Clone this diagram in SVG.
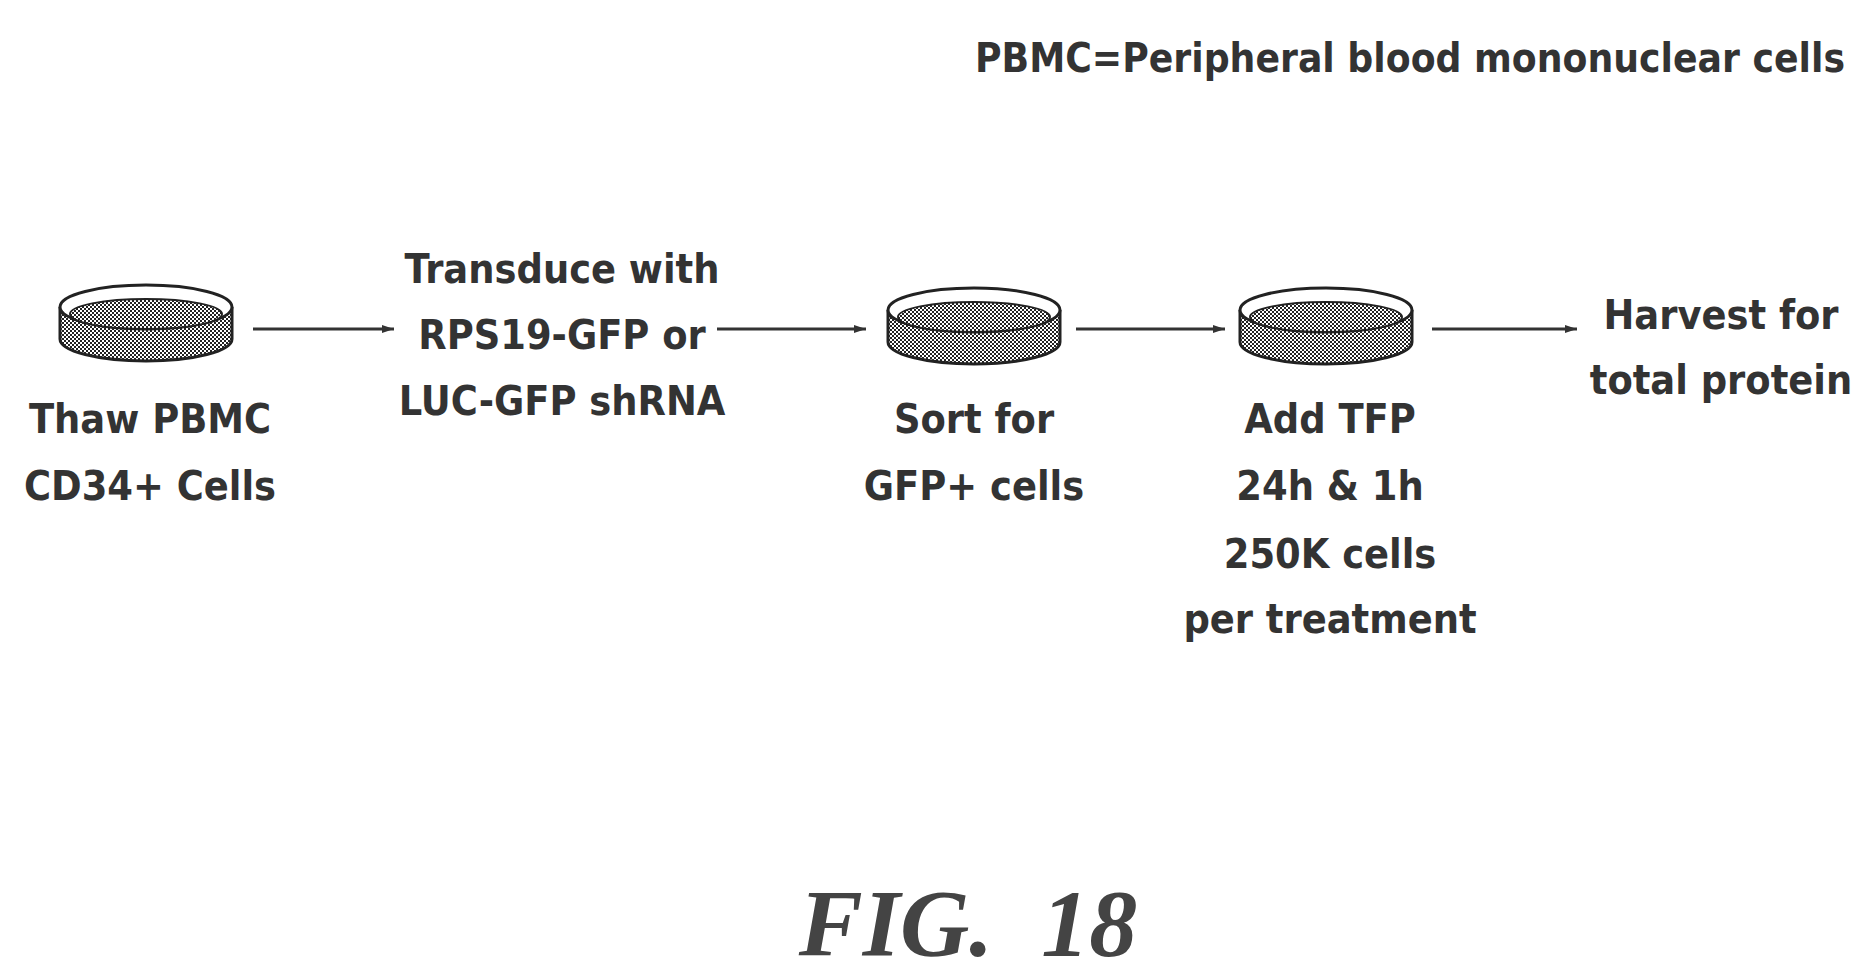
<svg xmlns="http://www.w3.org/2000/svg" width="1874" height="980" viewBox="0 0 1874 980">
<defs>
<pattern id="dots" width="4" height="4" patternUnits="userSpaceOnUse"><rect width="4" height="4" fill="#fff"/><rect width="2" height="2" fill="#222"/><rect x="2" y="2" width="2" height="2" fill="#222"/></pattern>
<marker id="ah" viewBox="0 0 12 8" refX="12" refY="4" markerWidth="12" markerHeight="8" markerUnits="userSpaceOnUse" orient="auto"><path d="M0,0 L12,4 L0,8 Z" fill="#333"/></marker>
<g id="dish">
<path d="M-86,-15 L-86,17 A86,22 0 0 0 86,17 L86,-15" fill="url(#dots)" stroke="#222" stroke-width="3"/>
<ellipse cx="0" cy="-15" rx="86" ry="22" fill="#fff" stroke="#222" stroke-width="3"/>
<ellipse cx="0" cy="-8" rx="76" ry="15" fill="url(#dots)" stroke="#222" stroke-width="2"/>
</g>
</defs>
<style>
text{font-family:"DejaVu Sans Condensed","Liberation Sans",sans-serif;font-weight:bold;font-size:41px;fill:#333;text-anchor:middle}
.c{stroke:#333;stroke-width:3;fill:none;marker-end:url(#ah)}
.fig{font-family:"Liberation Serif",serif;font-style:italic;font-weight:bold;font-size:96px;fill:#444}
</style>
<text x="1845" y="72" style="text-anchor:end" textLength="870" lengthAdjust="spacingAndGlyphs">PBMC=Peripheral blood mononuclear cells</text>
<g id="connectors">
<line class="c" x1="253" y1="329" x2="394" y2="329"/>
<line class="c" x1="717" y1="329" x2="866" y2="329"/>
<line class="c" x1="1076" y1="329" x2="1225" y2="329"/>
<line class="c" x1="1432" y1="329" x2="1577" y2="329"/>
</g>
<g id="n1"><use href="#dish" x="146" y="322"/><text x="150" y="433">Thaw PBMC</text><text x="150" y="500">CD34+ Cells</text></g>
<g id="n2"><text x="562" y="283">Transduce with</text><text x="562" y="349">RPS19-GFP or</text><text x="562" y="415">LUC-GFP shRNA</text></g>
<g id="n3"><use href="#dish" x="974" y="325"/><text x="974" y="433">Sort for</text><text x="974" y="500">GFP+ cells</text></g>
<g id="n4"><use href="#dish" x="1326" y="325"/><text x="1330" y="433">Add TFP</text><text x="1330" y="500">24h &amp; 1h</text><text x="1330" y="568">250K cells</text><text x="1330" y="633">per treatment</text></g>
<g id="n5"><text x="1721" y="329">Harvest for</text><text x="1721" y="394">total protein</text></g>
<text class="fig" x="968" y="956" xml:space="preserve">FIG.  18</text>
</svg>
